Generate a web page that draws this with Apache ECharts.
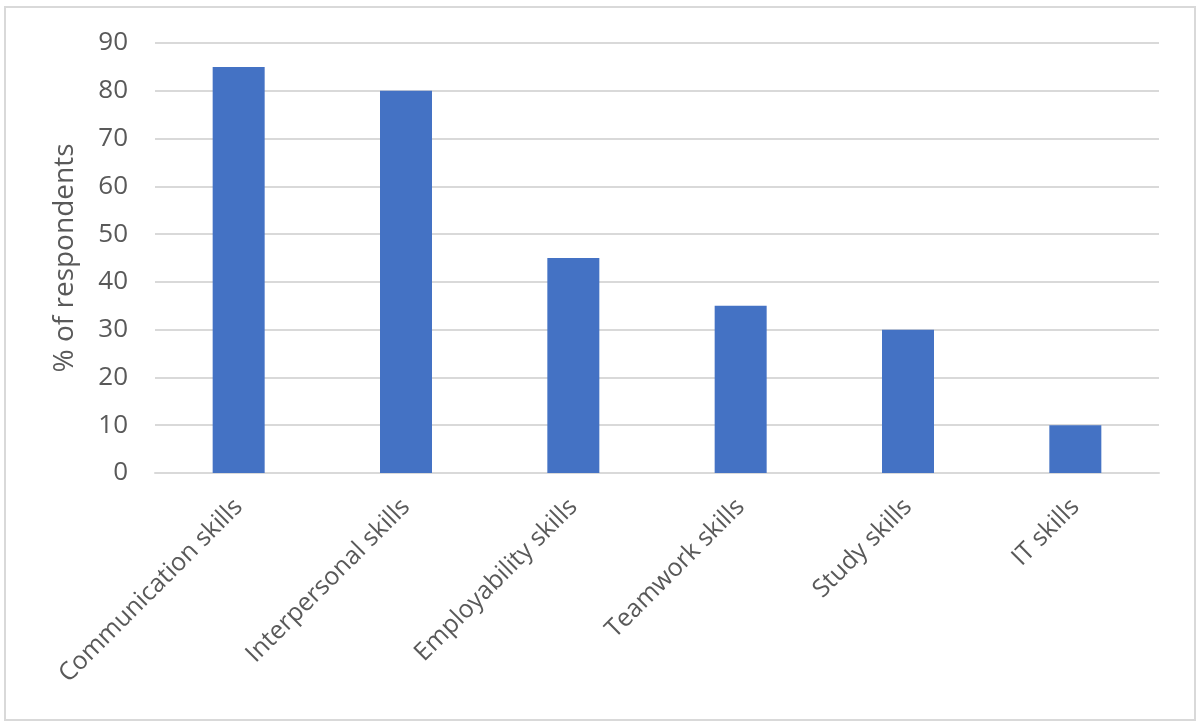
<!DOCTYPE html>
<html>
<head>
<meta charset="utf-8">
<script src="https://cdn.jsdelivr.net/npm/echarts@6/dist/echarts.min.js"></script>
<style>html,body{margin:0;padding:0;background:#fff}#c{width:1200px;height:726px}</style>
</head>
<body>
<div id="c"></div>
<script>
var categories = ["Communication skills", "Interpersonal skills", "Employability skills", "Teamwork skills", "Study skills", "IT skills"];
var values = [85, 80, 45, 35, 30, 10];
var yTicks = {min: 0, max: 90, interval: 10};

var chart = echarts.init(document.getElementById('c'), null, {renderer: 'canvas'});
chart.setOption({
  animation: false,
  backgroundColor: '#fff',
  graphic: [{
    type: 'rect',
    shape: {x: 5, y: 7, width: 1190, height: 713},
    style: {fill: 'none', stroke: '#d9d9d9', lineWidth: 2},
    silent: true
  }],
  grid: {left: 155, right: 41, top: 43, bottom: 253, containLabel: false},
  xAxis: {
    type: 'category',
    data: categories,
    axisLine: {show: true, lineStyle: {color: '#d9d9d9', width: 2}},
    axisTick: {show: false},
    axisLabel: {
      rotate: 45,
      interval: 0,
      margin: 30,
      color: '#595959',
      fontSize: 25,
      fontFamily: 'Open Sans'
    }
  },
  yAxis: {
    type: 'value',
    min: yTicks.min, max: yTicks.max, interval: yTicks.interval,
    name: '% of respondents',
    nameLocation: 'middle',
    nameGap: 76,
    nameRotate: 90,
    nameTextStyle: {color: '#595959', fontSize: 28, fontFamily: 'Open Sans'},
    axisLine: {show: false},
    axisTick: {show: false},
    splitLine: {lineStyle: {color: '#d9d9d9', width: 2}},
    axisLabel: {color: '#595959', fontSize: 26, fontFamily: 'Open Sans', margin: 27}
  },
  series: [{
    type: 'bar',
    data: values,
    barWidth: 52,
    itemStyle: {color: '#4472C4'}
  }]
});
</script>
</body>
</html>
